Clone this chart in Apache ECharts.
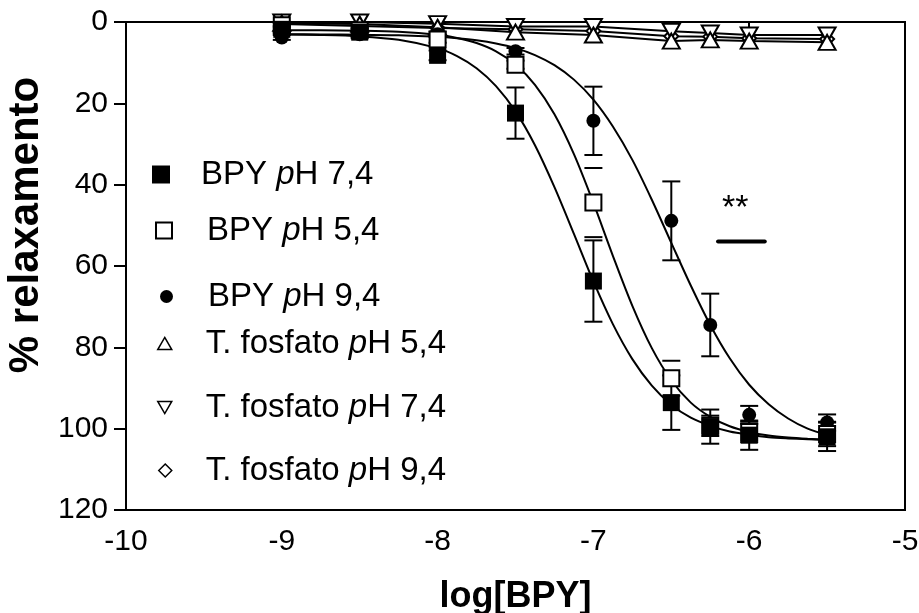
<!DOCTYPE html>
<html><head><meta charset="utf-8">
<script src="https://cdn.jsdelivr.net/npm/echarts@6/dist/echarts.min.js"></script>
<style>html,body{margin:0;padding:0;background:#fff}#c{width:919px;height:613px}</style>
</head><body><div id="c"></div>
<script>
// ---- data ----
const X_DATA = [-9, -8.5, -8, -7.5, -7, -6.5, -6.25, -6, -5.5];
const BPY74 = [1.8, 2.5, 8.2, 22.4, 63.7, 93.6, 99.5, 101.6, 102.0];
const BPY74_ERR = [0.8, 0.8, 1.2, 6.3, 10.0, 6.7, 4.2, 3.6, 3.5];
const BPY54 = [0.8, 2.0, 4.3, 10.5, 44.4, 87.6, 99.3, 100.8, 101.3];
const BPY54_ERR = [0.6, 0.6, 0.8, 1.0, 8.5, 4.3, 2.5, 2.5, 3.0];
const BPY94 = [3.8, 3.0, 3.0, 7.2, 24.3, 48.9, 74.5, 96.6, 98.5];
const BPY94_ERR = [0.6, 0.6, 0.6, 0.8, 8.4, 9.7, 7.7, 2.2, 2.0];
const T54 = [0.3, 0.5, 1.3, 2.5, 3.2, 4.7, 4.4, 4.7, 5.0];
const T74 = [0.0, 0.0, 0.4, 1.1, 1.1, 2.3, 2.7, 3.2, 3.2];
const T94 = [0.5, 1.0, 1.5, 1.8, 2.2, 3.5, 3.6, 4.0, 4.2];

// fitted curves as seen in the picture
const CURVE_X = [-9, -8.75, -8.5, -8.25, -8, -7.875, -7.75, -7.625, -7.5, -7.375, -7.25, -7.125, -7, -6.875, -6.75, -6.625, -6.5, -6.375, -6.25, -6.125, -6, -5.875, -5.75, -5.625, -5.5];
const CURVE74 = [3.08, 3.21, 3.53, 4.36, 6.42, 8.38, 11.36, 15.76, 21.98, 30.3, 40.6, 52.1, 63.8, 74.3, 82.9, 89.4, 94.1, 97.3, 99.3, 100.7, 101.5, 102.1, 102.4, 102.6, 102.8];
const CURVE54 = [2.02, 2.05, 2.15, 2.41, 3.15, 3.91, 5.18, 7.21, 10.46, 15.45, 22.7, 32.5, 44.5, 57.5, 69.8, 80.2, 88.1, 93.6, 97.1, 99.4, 100.8, 101.7, 102.2, 102.5, 102.7];
const CURVE94 = [3.02, 3.05, 3.12, 3.28, 3.65, 4.0, 4.51, 5.28, 6.42, 8.13, 10.62, 14.17, 19.1, 25.7, 33.9, 43.7, 54.3, 64.8, 74.5, 82.7, 89.2, 94.0, 97.5, 100.0, 101.6];

const X_TICKS = [-10, -9, -8, -7, -6, -5];
const Y_TICKS = [0, 20, 40, 60, 80, 100, 120];
const SERIES_NAMES = ['BPY pH 7,4', 'BPY pH 5,4', 'BPY pH 9,4', 'T. fosfato pH 5,4', 'T. fosfato pH 7,4', 'T. fosfato pH 9,4'];
const LEGEND_PARTS = [['BPY ', 'H 7,4'], ['BPY ', 'H 5,4'], ['BPY ', 'H 9,4'], ['T. fosfato ', 'H 5,4'], ['T. fosfato ', 'H 7,4'], ['T. fosfato ', 'H 9,4']];
const SIG_STARS = '**';
const STAR_POS = [-6.09, 46];
const SIG_BAR = [[-6.2, 54], [-5.9, 54]];

// ---- chart ----
const FONT = 'Liberation Sans, Arial, sans-serif';
const UP_TRI = 'path://M10,0L20,17.3L0,17.3Z';
const DOWN_TRI = 'path://M0,0L20,0L10,17.3Z';
const pairs = (xs, ys) => xs.map((x, i) => [x, ys[i]]);
const FILLED = { color: '#000', opacity: 1 };
const OPEN = { color: '#fff', borderColor: '#000', borderWidth: 2, opacity: 1 };
const OPEN_THIN = { color: '#fff', borderColor: '#000', borderWidth: 1.5, opacity: 1 };

function errSeries(ys, errs, stem) {
  return {
    type: 'custom', silent: true, z: 3,
    data: X_DATA.map((x, i) => [x, ys[i], errs[i]]),
    encode: { x: 0, y: 1 },
    renderItem: function (params, api) {
      const x = api.value(0), y = api.value(1), e = api.value(2);
      const a = api.coord([x, y - e]), b = api.coord([x, y + e]);
      const hw = 9, st = { stroke: '#000', lineWidth: 2 };
      const ch = [];
      if (stem) ch.push({ type: 'line', shape: { x1: a[0], y1: a[1], x2: b[0], y2: b[1] }, style: st });
      ch.push({ type: 'line', shape: { x1: a[0] - hw, y1: a[1], x2: a[0] + hw, y2: a[1] }, style: st });
      ch.push({ type: 'line', shape: { x1: b[0] - hw, y1: b[1], x2: b[0] + hw, y2: b[1] }, style: st });
      return { type: 'group', children: ch };
    }
  };
}
function curve(ys) {
  return { type: 'line', data: pairs(CURVE_X, ys), showSymbol: false, smooth: 0.3, silent: true, z: 2,
    lineStyle: { color: '#000', width: 2 } };
}
function tline(ys) {
  return { type: 'line', data: pairs(X_DATA, ys), showSymbol: false, silent: true, z: 2,
    lineStyle: { color: '#000', width: 2 } };
}
function scat(name, ys, symbol, size, filled, z) {
  return { type: 'scatter', name, data: pairs(X_DATA, ys), symbol, symbolSize: size, z: z || 4,
    itemStyle: filled ? FILLED : OPEN, emphasis: { disabled: true } };
}

const LEG_POS = [
  { left: 152, cy: 176, size: 18, pad: 26, style: FILLED },
  { left: 155, cy: 232, size: 16, pad: 30, style: OPEN },
  { left: 160, cy: 298, size: 13, pad: 30, style: FILLED },
  { left: 157, cy: 345, size: 14, pad: 29, style: OPEN_THIN },
  { left: 157, cy: 409, size: 14, pad: 29, style: OPEN_THIN },
  { left: 158, cy: 472, size: 13, pad: 29, style: OPEN_THIN }
];
const legends = SERIES_NAMES.map((n, i) => ({
  data: [n], left: LEG_POS[i].left, top: LEG_POS[i].cy - 18, padding: 0,
  itemWidth: LEG_POS[i].size, itemHeight: LEG_POS[i].size, selectedMode: false,
  itemStyle: LEG_POS[i].style,
  formatter: () => '{s| }{a|' + LEGEND_PARTS[i][0] + '}{i|p}{a|' + LEGEND_PARTS[i][1] + '}',
  textStyle: { rich: {
    s: { width: LEG_POS[i].pad, fontSize: 33, lineHeight: 36 },
    a: { fontFamily: FONT, fontSize: 33, color: '#000', lineHeight: 36 },
    i: { fontFamily: FONT, fontSize: 33, color: '#000', fontStyle: 'italic', lineHeight: 36 }
  } }
}));

const chart = echarts.init(document.getElementById('c'), null, { renderer: 'canvas' });
chart.setOption({
  animation: false,
  backgroundColor: '#fff',
  grid: { left: 126, right: 14, top: 22, bottom: 103, show: true, borderColor: '#000', borderWidth: 2,
    backgroundColor: 'transparent', containLabel: false, outerBoundsMode: 'none' },
  legend: legends,
  xAxis: {
    type: 'value', min: X_TICKS[0], max: X_TICKS[X_TICKS.length - 1], interval: 1,
    name: 'log[BPY]', nameLocation: 'middle', nameGap: 69,
    nameTextStyle: { fontFamily: FONT, fontSize: 36, fontWeight: 'bold', color: '#000' },
    axisLine: { lineStyle: { color: '#000', width: 2 } },
    axisTick: { length: 12, lineStyle: { color: '#000', width: 2 } },
    axisLabel: { fontFamily: FONT, fontSize: 30, color: '#000', margin: 17 },
    splitLine: { show: false }
  },
  yAxis: {
    type: 'value', inverse: true, min: Y_TICKS[0], max: Y_TICKS[Y_TICKS.length - 1], interval: 20,
    name: '% relaxamento', nameLocation: 'middle', nameGap: 78,
    nameTextStyle: { fontFamily: FONT, fontSize: 42, fontWeight: 'bold', color: '#000', padding: [0, 0, 0, 82] },
    axisLine: { lineStyle: { color: '#000', width: 2 } },
    axisTick: { length: 12, lineStyle: { color: '#000', width: 2 } },
    axisLabel: { fontFamily: FONT, fontSize: 30, color: '#000', margin: 18 },
    splitLine: { show: false }
  },
  series: [
    tline(T94), tline(T74), tline(T54),
    scat(SERIES_NAMES[5], T94, 'diamond', 14, false, 3),
    scat(SERIES_NAMES[4], T74, DOWN_TRI, [17, 15], false, 3),
    scat(SERIES_NAMES[3], T54, UP_TRI, [17, 15], false, 3),
    curve(CURVE94), curve(CURVE54), curve(CURVE74),
    errSeries(BPY94, BPY94_ERR, true),
    errSeries(BPY54, BPY54_ERR, false),
    errSeries(BPY74, BPY74_ERR, true),
    scat(SERIES_NAMES[2], BPY94, 'circle', 14, true),
    scat(SERIES_NAMES[1], BPY54, 'rect', 16, false),
    scat(SERIES_NAMES[0], BPY74, 'rect', 17, true),
    { type: 'line', data: SIG_BAR, showSymbol: false, silent: true, lineStyle: { color: '#000', width: 4, cap: 'round' } },
    { type: 'scatter', data: [STAR_POS], symbolSize: 0, silent: true, itemStyle: { opacity: 1 },
      label: { show: true, position: 'inside', formatter: SIG_STARS, fontFamily: FONT, fontSize: 34, color: '#000' } }
  ]
});
</script></body></html>
